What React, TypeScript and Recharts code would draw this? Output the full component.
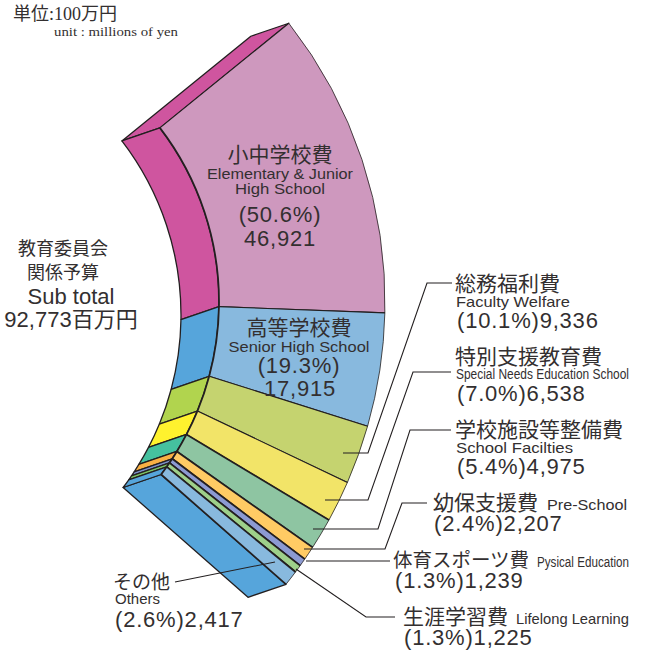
import React from 'react'
import { Pie, PieChart } from 'recharts'

const categories = ['Elementary & Junior High School', 'Senior High School', 'Faculty Welfare', 'Special Needs Education School', 'School Facilties', 'Pre-School', 'Pysical Education', 'Lifelong Learning', 'Others']
const amounts = [46921, 17915, 9336, 6538, 4975, 2207, 1239, 1225, 2417]
const frontColors = ['#CE98BE', '#88B9DE', '#C5D36F', '#F2E468', '#8EC5A2', '#FFCB64', '#8C9AD2', '#9ED08A', '#88B9DE']
const wallColors = ['#CF559F', '#56A5DB', '#B1D44E', '#FFF22E', '#45C19F', '#F9B044', '#7C8FCB', '#7CC364', '#56A5DB']

const rows = categories.map((name, i) => ({ name, value: amounts[i], fill: frontColors[i], wall: wallColors[i] }))

const INK = '#231F20'
const TEXT = '#332F30'
const SANS = "'Liberation Sans', 'Noto Sans CJK JP', sans-serif"
const CJK = "'Noto Sans CJK JP', 'Liberation Sans', sans-serif"
const SERIF = "'Liberation Serif', 'Noto Sans CJK JP', serif"

const CX = -67
const CY = 302
const INNER = 286
const OUTER = 452
const START = 38
const END = -38
// extrusion of the ring towards the lower left
const DX = -38
const DY = 13

// the drawing's dividers don't quite meet in one point, so the two arcs get slightly different angles
const outerAngle = (a: number) => a - 0.95 + 0.027 * Math.max(a, 0) + 0.008 * Math.max(-a, 0)
const innerAngle = (a: number) => a - 0.5 - 0.037 * Math.min(a, 0)

const polar = (r: number, deg: number, ox = 0, oy = 0) => {
  const a = (deg * Math.PI) / 180
  return `${CX + ox + r * Math.cos(a)} ${CY + oy - r * Math.sin(a)}`
}

const WallShape = (props: any) => {
  const { startAngle, endAngle, payload } = props
  const wall = payload?.wall ?? props.wall
  const s = innerAngle(startAngle)
  const e = innerAngle(endAngle)
  const d = `M${polar(INNER, s)} A${INNER} ${INNER} 0 0 1 ${polar(INNER, e)} L${polar(INNER, e, DX, DY)} A${INNER} ${INNER} 0 0 0 ${polar(INNER, s, DX, DY)} Z`
  const cap = (a: number) => `M${polar(INNER, innerAngle(a))} L${polar(OUTER, outerAngle(a))} L${polar(OUTER, outerAngle(a), DX, DY)} L${polar(INNER, innerAngle(a), DX, DY)} Z`
  return (
    <g>
      {Math.abs(startAngle - START) < 0.01 && <path d={cap(START)} fill={wall} stroke={INK} strokeWidth={1.3} strokeLinejoin="round" />}
      {Math.abs(endAngle - END) < 0.01 && <path d={cap(END)} fill={wall} stroke={INK} strokeWidth={1.3} strokeLinejoin="round" />}
      <path d={d} fill={wall} stroke={INK} strokeWidth={1.3} strokeLinejoin="round" />
    </g>
  )
}

const FrontShape = (props: any) => {
  const { startAngle, endAngle, fill } = props
  const si = innerAngle(startAngle)
  const ei = innerAngle(endAngle)
  const so = outerAngle(startAngle)
  const eo = outerAngle(endAngle)
  const narrow = startAngle - endAngle < 5
  return (
    <g>
      <path
        d={`M${polar(INNER, si)} L${polar(OUTER, so)} A${OUTER} ${OUTER} 0 0 1 ${polar(OUTER, eo)} L${polar(INNER, ei)} A${INNER} ${INNER} 0 0 0 ${polar(INNER, si)} Z`}
        fill={fill}
      />
      <path d={`M${polar(OUTER, so)} A${OUTER} ${OUTER} 0 0 1 ${polar(OUTER, eo)}`} fill="none" stroke={INK} strokeWidth={0.8} />
      <path d={`M${polar(INNER, si)} A${INNER} ${INNER} 0 0 1 ${polar(INNER, ei)}`} fill="none" stroke={INK} strokeWidth={1.8} />
      <path d={`M${polar(INNER, si)} L${polar(OUTER, so)}`} fill="none" stroke={INK} strokeWidth={narrow ? 1.7 : 1.1} />
      <path d={`M${polar(INNER, ei)} L${polar(OUTER, eo)}`} fill="none" stroke={INK} strokeWidth={narrow ? 1.7 : 1.1} />
    </g>
  )
}

const Txt = ({ x, y, size, font = SANS, anchor = 'start', len, spacing, children }: any) => (
  <text
    x={x}
    y={y}
    fontSize={size}
    fontFamily={font}
    fill={TEXT}
    textAnchor={anchor}
    letterSpacing={spacing}
    textLength={len}
    lengthAdjust={len ? 'spacingAndGlyphs' : undefined}
  >
    {children}
  </text>
)

const Leader = ({ points }: { points: string }) => (
  <polyline points={points} fill="none" stroke={INK} strokeWidth={1.1} />
)

export default function App() {
  return (
    <div style={{ position: 'absolute', left: 0, top: 0, width: 645, height: 655, background: '#fff' }}>
      <PieChart width={645} height={655} margin={{ top: 0, right: 0, bottom: 0, left: 0 }}>
        <Pie
          data={rows}
          dataKey="value"
          cx={CX}
          cy={CY}
          innerRadius={INNER}
          outerRadius={OUTER}
          startAngle={START}
          endAngle={END}
          shape={WallShape}
          inactiveShape={WallShape}
          isAnimationActive={false}
        />
        <Pie
          data={rows}
          dataKey="value"
          cx={CX}
          cy={CY}
          innerRadius={INNER}
          outerRadius={OUTER}
          startAngle={START}
          endAngle={END}
          shape={FrontShape}
          inactiveShape={FrontShape}
          isAnimationActive={false}
        />
      </PieChart>

      {/* labels sit on top of the sectors, recharts would paint them underneath */}
      <svg width={645} height={655} style={{ position: 'absolute', left: 0, top: 0 }}>
        <Leader points="343,453 368,453 427,283 452,283" />
        <Leader points="325,500 368,500 413,372 451,372" />
        <Leader points="313,529 378,529 410,430 451,430" />
        <Leader points="304,549 385,549 402,503 427,503" />
        <Leader points="306,561 390,561" />
        <Leader points="296,569 366,617 395,617" />
        <Leader points="275,562 175,582" />

        <Txt x={13} y={20} size={18} font={SERIF}>単位:100万円</Txt>
        <Txt x={54} y={36} size={13.5} font={SERIF} len={124}>unit : millions of yen</Txt>

        <Txt x={63} y={255} size={18} font={CJK} anchor="middle">教育委員会</Txt>
        <Txt x={63} y={279} size={18} font={CJK} anchor="middle">関係予算</Txt>
        <Txt x={71} y={304} size={22} anchor="middle">Sub total</Txt>
        <Txt x={71} y={327} size={22} anchor="middle">92,773百万円</Txt>

        <Txt x={280} y={162} size={21} font={CJK} anchor="middle">小中学校費</Txt>
        <Txt x={280} y={179} size={15} anchor="middle" len={146}>Elementary &amp; Junior</Txt>
        <Txt x={280} y={194} size={15} anchor="middle" len={90}>High School</Txt>
        <Txt x={280} y={222} size={22} anchor="middle" spacing={0.8}>(50.6%)</Txt>
        <Txt x={280} y={246} size={22} anchor="middle" spacing={0.8}>46,921</Txt>

        <Txt x={299} y={335} size={21} font={CJK} anchor="middle">高等学校費</Txt>
        <Txt x={299} y={352} size={15} anchor="middle" len={141}>Senior High School</Txt>
        <Txt x={299} y={373} size={22} anchor="middle" spacing={0.8}>(19.3%)</Txt>
        <Txt x={300} y={396} size={22} anchor="middle" spacing={0.8}>17,915</Txt>

        <Txt x={455} y={291} size={21} font={CJK}>総務福利費</Txt>
        <Txt x={456} y={307} size={15} len={114}>Faculty Welfare</Txt>
        <Txt x={457} y={328} size={22} spacing={0.8}>(10.1%)9,336</Txt>

        <Txt x={455} y={364} size={21} font={CJK}>特別支援教育費</Txt>
        <Txt x={456} y={379} size={14} len={173}>Special Needs Education School</Txt>
        <Txt x={457} y={401} size={22} spacing={0.8}>(7.0%)6,538</Txt>

        <Txt x={455} y={437} size={21} font={CJK}>学校施設等整備費</Txt>
        <Txt x={456} y={453} size={15} len={117}>School Facilties</Txt>
        <Txt x={457} y={474} size={22} spacing={0.8}>(5.4%)4,975</Txt>

        <Txt x={433} y={510} size={21} font={CJK}>幼保支援費</Txt>
        <Txt x={547} y={510} size={15} len={80}>Pre-School</Txt>
        <Txt x={434} y={531} size={22} spacing={0.8}>(2.4%)2,207</Txt>

        <Txt x={393} y={567} size={19.5} font={CJK}>体育スポーツ費</Txt>
        <Txt x={537} y={567} size={14} len={92}>Pysical Education</Txt>
        <Txt x={395} y={588} size={22} spacing={0.8}>(1.3%)1,239</Txt>

        <Txt x={403} y={624} size={21} font={CJK}>生涯学習費</Txt>
        <Txt x={516} y={624} size={15} len={113}>Lifelong Learning</Txt>
        <Txt x={404} y={645} size={22} spacing={0.8}>(1.3%)1,225</Txt>

        <Txt x={113} y={589} size={19} font={CJK}>その他</Txt>
        <Txt x={115} y={604} size={15} len={45}>Others</Txt>
        <Txt x={115} y={627} size={22} spacing={0.8}>(2.6%)2,417</Txt>
      </svg>
    </div>
  )
}
